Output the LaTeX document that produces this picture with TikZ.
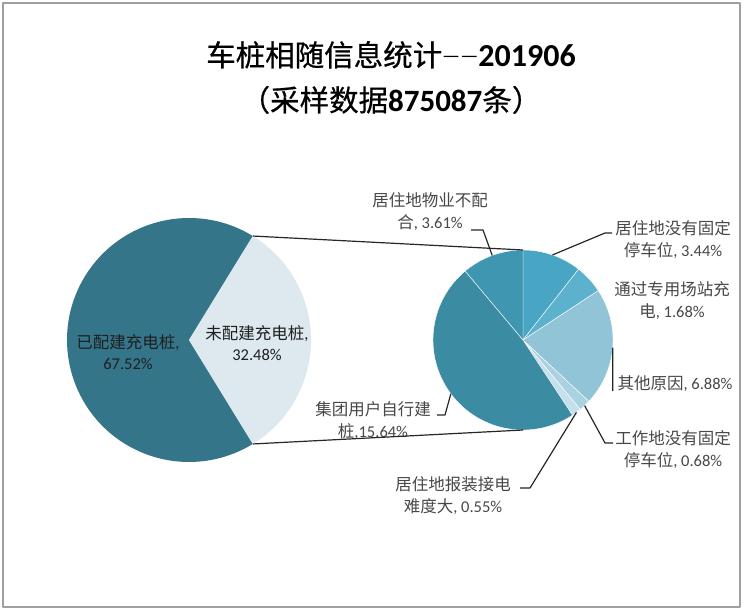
\documentclass[tikz,border=0pt]{standalone}
\usepackage{fontspec}
\setmainfont{Carlito}
\newfontfamily\cjk{Noto Sans CJK SC}
\newfontfamily\cjkhead[FakeBold=0.6]{Noto Sans CJK SC}
\usepackage{tikz}
\def\rbig{122}
\def\rsmall{90}
\definecolor{pieDark}{HTML}{357589}
\definecolor{pieLight}{HTML}{DDE9EF}
\definecolor{cJituan}{HTML}{3B8BA3}
\definecolor{cWuye}{HTML}{3F96B0}
\definecolor{cMeiyou}{HTML}{48A6C4}
\definecolor{cZhuanyong}{HTML}{5CB2CD}
\definecolor{cQita}{HTML}{92C4D8}
\definecolor{cGongzuo}{HTML}{AAD2E1}
\definecolor{cBaozhuang}{HTML}{C4E1EB}

\begin{document}
\begin{tikzpicture}[x=1pt, y=1pt, line join=round]
			\tikzstyle{heading}=[text=black, align=center, inner sep=0pt, font=\fontsize{29.5}{45}\selectfont]
			\tikzstyle{lbl}=[text=black!72, align=center, inner sep=0pt, font=\fontsize{16.5}{22}\selectfont]
			\tikzstyle{inlbl}=[text=black!88, align=center, inner sep=0pt, font=\fontsize{16.5}{21}\selectfont]
			\tikzstyle{slice}=[draw=white, line width=0.4pt]
			\tikzstyle{leader}=[draw=black!85, line width=1.2pt]
			
			\useasboundingbox (0,0) rectangle (744,611);
			\draw[gray!75, line width=1.6pt] (3,4) rectangle (740,608);
			
			% Title
			\node[heading] (title) at (391,533.5) {{\cjkhead 车桩相随信息统计}{\fontsize{20}{45}\selectfont\raisebox{4pt}{\textemdash\textemdash}}{\fontsize{32}{45}\selectfont\bfseries 201906}\\{\cjkhead （采样数据}{\fontsize{31}{45}\selectfont\bfseries 875087}{\cjkhead 条）}};
			
			% Centres of the two pies
			\coordinate (L) at (189,271);
			\coordinate (R) at (523,271);
			
			% Draw left pie
			\fill[pieDark] (L) -- ([shift={(58.46:\rbig)}]L) arc[start angle=58.46, end angle=301.54, radius=\rbig] -- cycle;
			\fill[pieLight] (L) -- ([shift={(-58.46:\rbig)}]L) arc[start angle=-58.46, end angle=58.46, radius=\rbig] -- cycle;
			
			% Draw right pie
			\filldraw[slice, fill=cMeiyou] (R) -- ([shift={(90:\rsmall)}]R) arc[start angle=90, end angle=51.87, radius=\rsmall] -- cycle;
			\filldraw[slice, fill=cZhuanyong] (R) -- ([shift={(51.87:\rsmall)}]R) arc[start angle=51.87, end angle=33.25, radius=\rsmall] -- cycle;
			\filldraw[slice, fill=cQita] (R) -- ([shift={(33.25:\rsmall)}]R) arc[start angle=33.25, end angle=-43.01, radius=\rsmall] -- cycle;
			\filldraw[slice, fill=cGongzuo] (R) -- ([shift={(-43.01:\rsmall)}]R) arc[start angle=-43.01, end angle=-50.55, radius=\rsmall] -- cycle;
			\filldraw[slice, fill=cBaozhuang] (R) -- ([shift={(-50.55:\rsmall)}]R) arc[start angle=-50.55, end angle=-56.65, radius=\rsmall] -- cycle;
			\filldraw[slice, fill=cJituan] (R) -- ([shift={(-56.65:\rsmall)}]R) arc[start angle=-56.65, end angle=-230, radius=\rsmall] -- cycle;
			\filldraw[slice, fill=cWuye] (R) -- ([shift={(130:\rsmall)}]R) arc[start angle=130, end angle=90, radius=\rsmall] -- cycle;
			
			% Labels inside left pie
			\node[inlbl] (yipei) at (128,259) {{\cjk 已配建充电桩},\\67.52\%};
			\node[inlbl] (weipei) at (257,268) {{\cjk 未配建充电桩},\\32.48\%};
			
			% Labels of right pie
			\node[lbl] (wuye) at (430,399) {{\cjk 居住地物业不配}\\{\cjk 合}, 3.61\%};
			\node[lbl] (meiyou) at (673,371) {{\cjk 居住地没有固定}\\{\cjk 停车位}, 3.44\%};
			\node[lbl] (zhuanyong) at (672,310) {{\cjk 通过专用场站充}\\{\cjk 电}, 1.68\%};
			\node[lbl] (qita) at (675,227) {{\cjk 其他原因}, 6.88\%};
			\node[lbl] (gongzuo) at (673,161) {{\cjk 工作地没有固定}\\{\cjk 停车位}, 0.68\%};
			\node[lbl] (baozhuang) at (453,115) {{\cjk 居住地报装接电}\\{\cjk 难度大}, 0.55\%};
			\node[lbl] (jituan) at (373,190) {{\cjk 集团用户自行建}\\{\cjk 桩},15.64\%};
			
			% Lines joining the pies
			\coordinate (ltop) at ([shift={(58.46:\rbig)}]L);
			\coordinate (lbot) at ([shift={(-58.46:\rbig)}]L);
			\coordinate (rtop) at ([shift={(90:\rsmall)}]R);
			\coordinate (rbot) at ([shift={(-90:\rsmall)}]R);
			\draw[leader] (ltop) -- (rtop);
			\draw[leader] (lbot) -- (rbot);
			
			% Leader lines
			\coordinate (wuye-in) at ([shift={(110:\rsmall)}]R);
			\coordinate (wuye-out) at (471,381);
			\coordinate (meiyou-in) at ([shift={(70.9:\rsmall)}]R);
			\coordinate (meiyou-out) at (612,378);
			\coordinate (qita-in) at ([shift={(-4.9:\rsmall)}]R);
			\coordinate (qita-out) at (612.7,220);
			\coordinate (gongzuo-in) at ([shift={(-46.8:\rsmall)}]R);
			\coordinate (gongzuo-out) at (613,168);
			\coordinate (baozhuang-in) at ([shift={(-53.6:\rsmall)}]R);
			\coordinate (baozhuang-out) at (520,123);
			\coordinate (jituan-in) at ([shift={(-143.3:\rsmall)}]R);
			\coordinate (jituan-out) at (437,196);
			\draw[leader] (wuye-in) -- (483,381) -- (wuye-out);
			\draw[leader] (meiyou-in) -- (605,378) -- (meiyou-out);
			\draw[leader] (qita-in) -- (qita-out);
			\draw[leader] (gongzuo-in) -- (605,168) -- (gongzuo-out);
			\draw[leader] (baozhuang-in) -- (530,123) -- (baozhuang-out);
			\draw[leader] (jituan-in) -- (445,196) -- (jituan-out);
			
		\end{tikzpicture}
\end{document}
